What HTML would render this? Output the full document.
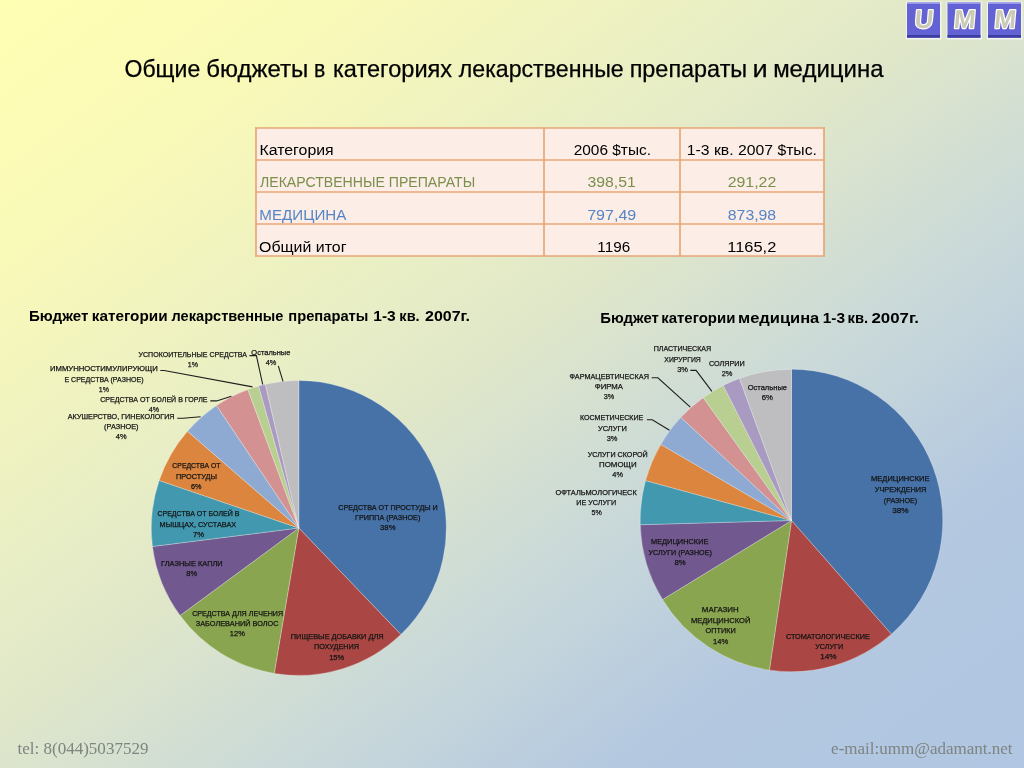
<!DOCTYPE html>
<html><head><meta charset="utf-8"><title>slide</title>
<style>html,body{margin:0;padding:0;width:1024px;height:768px;overflow:hidden;background:#E0E7CA;}svg{display:block;will-change:transform;}</style>
</head><body>
<svg width="1024" height="768" viewBox="0 0 1024 768">
<defs>
<linearGradient id="bg" x1="0" y1="0" x2="1" y2="1" gradientUnits="objectBoundingBox">
<stop offset="0" stop-color="#FFFFB4"/>
<stop offset="0.17" stop-color="#F9F9B8"/>
<stop offset="0.25" stop-color="#F3F5BD"/>
<stop offset="0.39" stop-color="#E7EDC6"/>
<stop offset="0.47" stop-color="#E0E7C9"/>
<stop offset="0.65" stop-color="#C8D8DA"/>
<stop offset="0.8" stop-color="#B4C8E0"/>
<stop offset="1" stop-color="#B0C6E2"/>
</linearGradient>
</defs>
<rect x="0" y="0" width="1024" height="768" fill="url(#bg)"/>
<rect x="906" y="1.5" width="35.5" height="38" fill="#F2F4EE"/>
<rect x="907" y="2.5" width="33" height="35.2" fill="#6262D4"/>
<rect x="907" y="2.2" width="33" height="1.6" fill="#A6A6EC"/>
<rect x="907" y="35" width="33" height="2.7" fill="#3E3EA2"/>
<text x="923.5" y="28.2" font-size="26" font-weight="bold" fill="#CACAB6" stroke="#FFFFFF" stroke-width="2.4" paint-order="stroke fill" stroke-linejoin="round" font-family="Liberation Sans, sans-serif" text-anchor="middle" transform="skewX(-5) translate(2.47,0)">U</text>
<rect x="946.5" y="1.5" width="35.5" height="38" fill="#F2F4EE"/>
<rect x="947.5" y="2.5" width="33" height="35.2" fill="#6262D4"/>
<rect x="947.5" y="2.2" width="33" height="1.6" fill="#A6A6EC"/>
<rect x="947.5" y="35" width="33" height="2.7" fill="#3E3EA2"/>
<text x="964.0" y="28.2" font-size="26" font-weight="bold" fill="#CACAB6" stroke="#FFFFFF" stroke-width="2.4" paint-order="stroke fill" stroke-linejoin="round" font-family="Liberation Sans, sans-serif" text-anchor="middle" transform="skewX(-5) translate(2.47,0)">M</text>
<rect x="987" y="1.5" width="35.5" height="38" fill="#F2F4EE"/>
<rect x="988" y="2.5" width="33" height="35.2" fill="#6262D4"/>
<rect x="988" y="2.2" width="33" height="1.6" fill="#A6A6EC"/>
<rect x="988" y="35" width="33" height="2.7" fill="#3E3EA2"/>
<text x="1004.5" y="28.2" font-size="26" font-weight="bold" fill="#CACAB6" stroke="#FFFFFF" stroke-width="2.4" paint-order="stroke fill" stroke-linejoin="round" font-family="Liberation Sans, sans-serif" text-anchor="middle" transform="skewX(-5) translate(2.47,0)">M</text>
<text x="124.51" y="77.00" font-size="23.6" fill="#000" font-weight="normal" font-family="Liberation Sans, sans-serif" text-anchor="start" textLength="75.71" lengthAdjust="spacingAndGlyphs" stroke="#000" stroke-width="0.25">Общие</text>
<text x="206.21" y="77.00" font-size="23.6" fill="#000" font-weight="normal" font-family="Liberation Sans, sans-serif" text-anchor="start" textLength="102.03" lengthAdjust="spacingAndGlyphs" stroke="#000" stroke-width="0.25">бюджеты</text>
<text x="314.03" y="77.00" font-size="23.6" fill="#000" font-weight="normal" font-family="Liberation Sans, sans-serif" text-anchor="start" textLength="11.30" lengthAdjust="spacingAndGlyphs" stroke="#000" stroke-width="0.25">в</text>
<text x="333.02" y="77.00" font-size="23.6" fill="#000" font-weight="normal" font-family="Liberation Sans, sans-serif" text-anchor="start" textLength="119.13" lengthAdjust="spacingAndGlyphs" stroke="#000" stroke-width="0.25">категориях</text>
<text x="458.78" y="77.00" font-size="23.6" fill="#000" font-weight="normal" font-family="Liberation Sans, sans-serif" text-anchor="start" textLength="164.95" lengthAdjust="spacingAndGlyphs" stroke="#000" stroke-width="0.25">лекарственные</text>
<text x="629.68" y="77.00" font-size="23.6" fill="#000" font-weight="normal" font-family="Liberation Sans, sans-serif" text-anchor="start" textLength="117.53" lengthAdjust="spacingAndGlyphs" stroke="#000" stroke-width="0.25">препараты</text>
<text x="752.62" y="77.00" font-size="23.6" fill="#000" font-weight="normal" font-family="Liberation Sans, sans-serif" text-anchor="start" textLength="15.16" lengthAdjust="spacingAndGlyphs" stroke="#000" stroke-width="0.25">и</text>
<text x="773.15" y="77.00" font-size="23.6" fill="#000" font-weight="normal" font-family="Liberation Sans, sans-serif" text-anchor="start" textLength="110.35" lengthAdjust="spacingAndGlyphs" stroke="#000" stroke-width="0.25">медицина</text>
<rect x="256" y="128" width="568" height="128" fill="#FCEDE6"/>
<line x1="255.2" y1="128" x2="824.8" y2="128" stroke="#E8A676" stroke-width="1.7"/>
<line x1="255.2" y1="160" x2="824.8" y2="160" stroke="#E8A676" stroke-width="1.7"/>
<line x1="255.2" y1="192" x2="824.8" y2="192" stroke="#E8A676" stroke-width="1.7"/>
<line x1="255.2" y1="224" x2="824.8" y2="224" stroke="#E8A676" stroke-width="1.7"/>
<line x1="255.2" y1="256" x2="824.8" y2="256" stroke="#E8A676" stroke-width="1.7"/>
<line x1="256" y1="127.2" x2="256" y2="256.8" stroke="#E8A676" stroke-width="1.7"/>
<line x1="544" y1="127.2" x2="544" y2="256.8" stroke="#E8A676" stroke-width="1.7"/>
<line x1="680" y1="127.2" x2="680" y2="256.8" stroke="#E8A676" stroke-width="1.7"/>
<line x1="824" y1="127.2" x2="824" y2="256.8" stroke="#E8A676" stroke-width="1.7"/>
<text x="259.51" y="155.40" font-size="14.9" fill="#000" font-weight="normal" font-family="Liberation Sans, sans-serif" text-anchor="start" textLength="74.17" lengthAdjust="spacingAndGlyphs">Категория</text>
<text x="573.72" y="155.40" font-size="14.9" fill="#000" font-weight="normal" font-family="Liberation Sans, sans-serif" text-anchor="start" textLength="77.28" lengthAdjust="spacingAndGlyphs">2006 $тыс.</text>
<text x="686.80" y="155.40" font-size="14.9" fill="#000" font-weight="normal" font-family="Liberation Sans, sans-serif" text-anchor="start" textLength="130.14" lengthAdjust="spacingAndGlyphs">1-3 кв. 2007 $тыс.</text>
<text x="259.98" y="187.40" font-size="14.9" fill="#7A8F4C" font-weight="normal" font-family="Liberation Sans, sans-serif" text-anchor="start" textLength="215.16" lengthAdjust="spacingAndGlyphs">ЛЕКАРСТВЕННЫЕ ПРЕПАРАТЫ</text>
<text x="587.40" y="187.40" font-size="14.9" fill="#7A8F4C" font-weight="normal" font-family="Liberation Sans, sans-serif" text-anchor="start" textLength="48.37" lengthAdjust="spacingAndGlyphs">398,51</text>
<text x="727.70" y="187.40" font-size="14.9" fill="#7A8F4C" font-weight="normal" font-family="Liberation Sans, sans-serif" text-anchor="start" textLength="48.60" lengthAdjust="spacingAndGlyphs">291,22</text>
<text x="259.36" y="219.70" font-size="14.9" fill="#5585C5" font-weight="normal" font-family="Liberation Sans, sans-serif" text-anchor="start" textLength="87.07" lengthAdjust="spacingAndGlyphs">МЕДИЦИНА</text>
<text x="587.18" y="219.70" font-size="14.9" fill="#5585C5" font-weight="normal" font-family="Liberation Sans, sans-serif" text-anchor="start" textLength="49.08" lengthAdjust="spacingAndGlyphs">797,49</text>
<text x="727.81" y="219.70" font-size="14.9" fill="#5585C5" font-weight="normal" font-family="Liberation Sans, sans-serif" text-anchor="start" textLength="48.37" lengthAdjust="spacingAndGlyphs">873,98</text>
<text x="259.05" y="251.70" font-size="14.9" fill="#000" font-weight="normal" font-family="Liberation Sans, sans-serif" text-anchor="start" textLength="87.42" lengthAdjust="spacingAndGlyphs">Общий итог</text>
<text x="597.38" y="251.70" font-size="14.9" fill="#000" font-weight="normal" font-family="Liberation Sans, sans-serif" text-anchor="start" textLength="32.77" lengthAdjust="spacingAndGlyphs">1196</text>
<text x="727.28" y="251.70" font-size="14.9" fill="#000" font-weight="normal" font-family="Liberation Sans, sans-serif" text-anchor="start" textLength="49.03" lengthAdjust="spacingAndGlyphs">1165,2</text>
<text x="28.90" y="321.20" font-size="14.2" fill="#000" font-weight="bold" font-family="Liberation Sans, sans-serif" text-anchor="start" textLength="59.42" lengthAdjust="spacingAndGlyphs">Бюджет</text>
<text x="91.74" y="321.20" font-size="14.2" fill="#000" font-weight="bold" font-family="Liberation Sans, sans-serif" text-anchor="start" textLength="75.82" lengthAdjust="spacingAndGlyphs">категории</text>
<text x="171.55" y="321.20" font-size="14.2" fill="#000" font-weight="bold" font-family="Liberation Sans, sans-serif" text-anchor="start" textLength="111.85" lengthAdjust="spacingAndGlyphs">лекарственные</text>
<text x="288.27" y="321.20" font-size="14.2" fill="#000" font-weight="bold" font-family="Liberation Sans, sans-serif" text-anchor="start" textLength="80.16" lengthAdjust="spacingAndGlyphs">препараты</text>
<text x="373.32" y="321.20" font-size="14.2" fill="#000" font-weight="bold" font-family="Liberation Sans, sans-serif" text-anchor="start" textLength="22.44" lengthAdjust="spacingAndGlyphs">1-3</text>
<text x="399.39" y="321.20" font-size="14.2" fill="#000" font-weight="bold" font-family="Liberation Sans, sans-serif" text-anchor="start" textLength="20.20" lengthAdjust="spacingAndGlyphs">кв.</text>
<text x="425.07" y="321.20" font-size="14.2" fill="#000" font-weight="bold" font-family="Liberation Sans, sans-serif" text-anchor="start" textLength="45.00" lengthAdjust="spacingAndGlyphs">2007г.</text>
<text x="600.31" y="322.60" font-size="14.2" fill="#000" font-weight="bold" font-family="Liberation Sans, sans-serif" text-anchor="start" textLength="58.50" lengthAdjust="spacingAndGlyphs">Бюджет</text>
<text x="661.16" y="322.60" font-size="14.2" fill="#000" font-weight="bold" font-family="Liberation Sans, sans-serif" text-anchor="start" textLength="74.27" lengthAdjust="spacingAndGlyphs">категории</text>
<text x="737.95" y="322.60" font-size="14.2" fill="#000" font-weight="bold" font-family="Liberation Sans, sans-serif" text-anchor="start" textLength="81.35" lengthAdjust="spacingAndGlyphs">медицина</text>
<text x="822.73" y="322.60" font-size="14.2" fill="#000" font-weight="bold" font-family="Liberation Sans, sans-serif" text-anchor="start" textLength="22.33" lengthAdjust="spacingAndGlyphs">1-3</text>
<text x="847.58" y="322.60" font-size="14.2" fill="#000" font-weight="bold" font-family="Liberation Sans, sans-serif" text-anchor="start" textLength="20.54" lengthAdjust="spacingAndGlyphs">кв.</text>
<text x="871.44" y="322.60" font-size="14.2" fill="#000" font-weight="bold" font-family="Liberation Sans, sans-serif" text-anchor="start" textLength="47.48" lengthAdjust="spacingAndGlyphs">2007г.</text>
<path d="M298.80,528.00 L298.80,380.50 A147.5,147.5 0 0 1 400.89,634.46 Z" fill="#4672A7" stroke="rgba(255,255,255,0.35)" stroke-width="0.8" stroke-linejoin="round"/>
<path d="M298.80,528.00 L400.89,634.46 A147.5,147.5 0 0 1 274.20,673.43 Z" fill="#AA4744" stroke="rgba(255,255,255,0.35)" stroke-width="0.8" stroke-linejoin="round"/>
<path d="M298.80,528.00 L274.20,673.43 A147.5,147.5 0 0 1 180.08,615.53 Z" fill="#89A54F" stroke="rgba(255,255,255,0.35)" stroke-width="0.8" stroke-linejoin="round"/>
<path d="M298.80,528.00 L180.08,615.53 A147.5,147.5 0 0 1 152.46,546.49 Z" fill="#71588F" stroke="rgba(255,255,255,0.35)" stroke-width="0.8" stroke-linejoin="round"/>
<path d="M298.80,528.00 L152.46,546.49 A147.5,147.5 0 0 1 159.17,480.47 Z" fill="#4298AF" stroke="rgba(255,255,255,0.35)" stroke-width="0.8" stroke-linejoin="round"/>
<path d="M298.80,528.00 L159.17,480.47 A147.5,147.5 0 0 1 187.48,431.23 Z" fill="#DB853E" stroke="rgba(255,255,255,0.35)" stroke-width="0.8" stroke-linejoin="round"/>
<path d="M298.80,528.00 L187.48,431.23 A147.5,147.5 0 0 1 216.53,405.57 Z" fill="#8FAAD2" stroke="rgba(255,255,255,0.35)" stroke-width="0.8" stroke-linejoin="round"/>
<path d="M298.80,528.00 L216.53,405.57 A147.5,147.5 0 0 1 247.87,389.57 Z" fill="#D39291" stroke="rgba(255,255,255,0.35)" stroke-width="0.8" stroke-linejoin="round"/>
<path d="M298.80,528.00 L247.87,389.57 A147.5,147.5 0 0 1 258.64,386.07 Z" fill="#B9CF92" stroke="rgba(255,255,255,0.35)" stroke-width="0.8" stroke-linejoin="round"/>
<path d="M298.80,528.00 L258.64,386.07 A147.5,147.5 0 0 1 265.37,384.34 Z" fill="#A99AC2" stroke="rgba(255,255,255,0.35)" stroke-width="0.8" stroke-linejoin="round"/>
<path d="M298.80,528.00 L265.37,384.34 A147.5,147.5 0 0 1 298.80,380.50 Z" fill="#BEBEC1" stroke="rgba(255,255,255,0.35)" stroke-width="0.8" stroke-linejoin="round"/>
<path d="M791.50,520.50 L791.50,369.20 A151.3,151.3 0 0 1 891.36,634.17 Z" fill="#4672A7" stroke="rgba(255,255,255,0.35)" stroke-width="0.8" stroke-linejoin="round"/>
<path d="M791.50,520.50 L891.36,634.17 A151.3,151.3 0 0 1 769.40,670.18 Z" fill="#AA4744" stroke="rgba(255,255,255,0.35)" stroke-width="0.8" stroke-linejoin="round"/>
<path d="M791.50,520.50 L769.40,670.18 A151.3,151.3 0 0 1 662.50,599.55 Z" fill="#89A54F" stroke="rgba(255,255,255,0.35)" stroke-width="0.8" stroke-linejoin="round"/>
<path d="M791.50,520.50 L662.50,599.55 A151.3,151.3 0 0 1 640.26,524.72 Z" fill="#71588F" stroke="rgba(255,255,255,0.35)" stroke-width="0.8" stroke-linejoin="round"/>
<path d="M791.50,520.50 L640.26,524.72 A151.3,151.3 0 0 1 645.56,480.58 Z" fill="#4298AF" stroke="rgba(255,255,255,0.35)" stroke-width="0.8" stroke-linejoin="round"/>
<path d="M791.50,520.50 L645.56,480.58 A151.3,151.3 0 0 1 660.74,444.39 Z" fill="#DB853E" stroke="rgba(255,255,255,0.35)" stroke-width="0.8" stroke-linejoin="round"/>
<path d="M791.50,520.50 L660.74,444.39 A151.3,151.3 0 0 1 680.85,417.31 Z" fill="#8FAAD2" stroke="rgba(255,255,255,0.35)" stroke-width="0.8" stroke-linejoin="round"/>
<path d="M791.50,520.50 L680.85,417.31 A151.3,151.3 0 0 1 703.21,397.63 Z" fill="#D39291" stroke="rgba(255,255,255,0.35)" stroke-width="0.8" stroke-linejoin="round"/>
<path d="M791.50,520.50 L703.21,397.63 A151.3,151.3 0 0 1 723.28,385.45 Z" fill="#B9CF92" stroke="rgba(255,255,255,0.35)" stroke-width="0.8" stroke-linejoin="round"/>
<path d="M791.50,520.50 L723.28,385.45 A151.3,151.3 0 0 1 739.50,378.42 Z" fill="#A99AC2" stroke="rgba(255,255,255,0.35)" stroke-width="0.8" stroke-linejoin="round"/>
<path d="M791.50,520.50 L739.50,378.42 A151.3,151.3 0 0 1 791.50,369.20 Z" fill="#BEBEC1" stroke="rgba(255,255,255,0.35)" stroke-width="0.8" stroke-linejoin="round"/>
<polyline points="249.4,355.6 256.4,355.6 262.7,384.5" fill="none" stroke="#1E1E1E" stroke-width="1.1"/>
<polyline points="278.3,365.8 283.0,381.4" fill="none" stroke="#1E1E1E" stroke-width="1.1"/>
<polyline points="160.3,370.5 164.2,370.5 252.5,386.9" fill="none" stroke="#1E1E1E" stroke-width="1.1"/>
<polyline points="210.3,400.9 216.6,400.9 231.4,396.2" fill="none" stroke="#1E1E1E" stroke-width="1.1"/>
<polyline points="177.2,418.3 183.0,418.3 200.6,416.7" fill="none" stroke="#1E1E1E" stroke-width="1.1"/>
<polyline points="690.3,370.4 696.1,370.4 711.9,391.4" fill="none" stroke="#1E1E1E" stroke-width="1.1"/>
<polyline points="651.6,377.8 657.9,377.8 690.3,407.2" fill="none" stroke="#1E1E1E" stroke-width="1.1"/>
<polyline points="646.9,419.8 652.3,419.8 669.5,430.3" fill="none" stroke="#1E1E1E" stroke-width="1.1"/>
<text x="138.56" y="356.90" font-size="7.8" fill="#141414" font-weight="normal" font-family="Liberation Sans, sans-serif" text-anchor="start" textLength="108.45" lengthAdjust="spacingAndGlyphs" stroke="#141414" stroke-width="0.25">УСПОКОИТЕЛЬНЫЕ СРЕДСТВА</text>
<text x="187.86" y="366.60" font-size="7.8" fill="#141414" font-weight="normal" font-family="Liberation Sans, sans-serif" text-anchor="start" textLength="10.19" lengthAdjust="spacingAndGlyphs" stroke="#141414" stroke-width="0.25">1%</text>
<text x="251.35" y="354.80" font-size="7.8" fill="#141414" font-weight="normal" font-family="Liberation Sans, sans-serif" text-anchor="start" textLength="38.99" lengthAdjust="spacingAndGlyphs" stroke="#141414" stroke-width="0.25">Остальные</text>
<text x="265.63" y="365.00" font-size="7.8" fill="#141414" font-weight="normal" font-family="Liberation Sans, sans-serif" text-anchor="start" textLength="10.63" lengthAdjust="spacingAndGlyphs" stroke="#141414" stroke-width="0.25">4%</text>
<text x="49.97" y="371.25" font-size="7.8" fill="#141414" font-weight="normal" font-family="Liberation Sans, sans-serif" text-anchor="start" textLength="107.85" lengthAdjust="spacingAndGlyphs" stroke="#141414" stroke-width="0.25">ИММУННОСТИМУЛИРУЮЩИ</text>
<text x="64.43" y="381.90" font-size="7.8" fill="#141414" font-weight="normal" font-family="Liberation Sans, sans-serif" text-anchor="start" textLength="79.10" lengthAdjust="spacingAndGlyphs" stroke="#141414" stroke-width="0.25">Е СРЕДСТВА (РАЗНОЕ)</text>
<text x="98.87" y="391.60" font-size="7.8" fill="#141414" font-weight="normal" font-family="Liberation Sans, sans-serif" text-anchor="start" textLength="10.13" lengthAdjust="spacingAndGlyphs" stroke="#141414" stroke-width="0.25">1%</text>
<text x="100.25" y="401.70" font-size="7.8" fill="#141414" font-weight="normal" font-family="Liberation Sans, sans-serif" text-anchor="start" textLength="107.25" lengthAdjust="spacingAndGlyphs" stroke="#141414" stroke-width="0.25">СРЕДСТВА ОТ БОЛЕЙ В ГОРЛЕ</text>
<text x="148.74" y="411.60" font-size="7.8" fill="#141414" font-weight="normal" font-family="Liberation Sans, sans-serif" text-anchor="start" textLength="10.27" lengthAdjust="spacingAndGlyphs" stroke="#141414" stroke-width="0.25">4%</text>
<text x="67.79" y="418.75" font-size="7.8" fill="#141414" font-weight="normal" font-family="Liberation Sans, sans-serif" text-anchor="start" textLength="106.80" lengthAdjust="spacingAndGlyphs" stroke="#141414" stroke-width="0.25">АКУШЕРСТВО, ГИНЕКОЛОГИЯ</text>
<text x="104.05" y="428.75" font-size="7.8" fill="#141414" font-weight="normal" font-family="Liberation Sans, sans-serif" text-anchor="start" textLength="34.50" lengthAdjust="spacingAndGlyphs" stroke="#141414" stroke-width="0.25">(РАЗНОЕ)</text>
<text x="115.83" y="438.60" font-size="7.8" fill="#141414" font-weight="normal" font-family="Liberation Sans, sans-serif" text-anchor="start" textLength="10.84" lengthAdjust="spacingAndGlyphs" stroke="#141414" stroke-width="0.25">4%</text>
<text x="172.35" y="468.40" font-size="7.8" fill="#141414" font-weight="normal" font-family="Liberation Sans, sans-serif" text-anchor="start" textLength="48.10" lengthAdjust="spacingAndGlyphs" stroke="#141414" stroke-width="0.25">СРЕДСТВА ОТ</text>
<text x="176.02" y="478.90" font-size="7.8" fill="#141414" font-weight="normal" font-family="Liberation Sans, sans-serif" text-anchor="start" textLength="40.97" lengthAdjust="spacingAndGlyphs" stroke="#141414" stroke-width="0.25">ПРОСТУДЫ</text>
<text x="191.03" y="489.00" font-size="7.8" fill="#141414" font-weight="normal" font-family="Liberation Sans, sans-serif" text-anchor="start" textLength="10.48" lengthAdjust="spacingAndGlyphs" stroke="#141414" stroke-width="0.25">6%</text>
<text x="157.45" y="516.40" font-size="7.8" fill="#141414" font-weight="normal" font-family="Liberation Sans, sans-serif" text-anchor="start" textLength="81.92" lengthAdjust="spacingAndGlyphs" stroke="#141414" stroke-width="0.25">СРЕДСТВА ОТ БОЛЕЙ В</text>
<text x="159.61" y="526.60" font-size="7.8" fill="#141414" font-weight="normal" font-family="Liberation Sans, sans-serif" text-anchor="start" textLength="76.54" lengthAdjust="spacingAndGlyphs" stroke="#141414" stroke-width="0.25">МЫШЦАХ, СУСТАВАХ</text>
<text x="192.91" y="537.00" font-size="7.8" fill="#141414" font-weight="normal" font-family="Liberation Sans, sans-serif" text-anchor="start" textLength="11.12" lengthAdjust="spacingAndGlyphs" stroke="#141414" stroke-width="0.25">7%</text>
<text x="161.10" y="565.80" font-size="7.8" fill="#141414" font-weight="normal" font-family="Liberation Sans, sans-serif" text-anchor="start" textLength="61.61" lengthAdjust="spacingAndGlyphs" stroke="#141414" stroke-width="0.25">ГЛАЗНЫЕ КАПЛИ</text>
<text x="186.37" y="575.80" font-size="7.8" fill="#141414" font-weight="normal" font-family="Liberation Sans, sans-serif" text-anchor="start" textLength="10.90" lengthAdjust="spacingAndGlyphs" stroke="#141414" stroke-width="0.25">8%</text>
<text x="192.14" y="615.80" font-size="7.8" fill="#141414" font-weight="normal" font-family="Liberation Sans, sans-serif" text-anchor="start" textLength="90.94" lengthAdjust="spacingAndGlyphs" stroke="#141414" stroke-width="0.25">СРЕДСТВА ДЛЯ ЛЕЧЕНИЯ</text>
<text x="195.76" y="625.80" font-size="7.8" fill="#141414" font-weight="normal" font-family="Liberation Sans, sans-serif" text-anchor="start" textLength="82.81" lengthAdjust="spacingAndGlyphs" stroke="#141414" stroke-width="0.25">ЗАБОЛЕВАНИЙ ВОЛОС</text>
<text x="229.83" y="636.25" font-size="7.8" fill="#141414" font-weight="normal" font-family="Liberation Sans, sans-serif" text-anchor="start" textLength="15.04" lengthAdjust="spacingAndGlyphs" stroke="#141414" stroke-width="0.25">12%</text>
<text x="338.34" y="509.70" font-size="7.8" fill="#141414" font-weight="normal" font-family="Liberation Sans, sans-serif" text-anchor="start" textLength="99.44" lengthAdjust="spacingAndGlyphs" stroke="#141414" stroke-width="0.25">СРЕДСТВА ОТ ПРОСТУДЫ И</text>
<text x="355.01" y="519.80" font-size="7.8" fill="#141414" font-weight="normal" font-family="Liberation Sans, sans-serif" text-anchor="start" textLength="65.34" lengthAdjust="spacingAndGlyphs" stroke="#141414" stroke-width="0.25">ГРИППА (РАЗНОЕ)</text>
<text x="380.00" y="530.20" font-size="7.8" fill="#141414" font-weight="normal" font-family="Liberation Sans, sans-serif" text-anchor="start" textLength="15.57" lengthAdjust="spacingAndGlyphs" stroke="#141414" stroke-width="0.25">38%</text>
<text x="290.80" y="638.80" font-size="7.8" fill="#141414" font-weight="normal" font-family="Liberation Sans, sans-serif" text-anchor="start" textLength="92.80" lengthAdjust="spacingAndGlyphs" stroke="#141414" stroke-width="0.25">ПИЩЕВЫЕ ДОБАВКИ ДЛЯ</text>
<text x="314.02" y="649.20" font-size="7.8" fill="#141414" font-weight="normal" font-family="Liberation Sans, sans-serif" text-anchor="start" textLength="44.96" lengthAdjust="spacingAndGlyphs" stroke="#141414" stroke-width="0.25">ПОХУДЕНИЯ</text>
<text x="329.13" y="660.10" font-size="7.8" fill="#141414" font-weight="normal" font-family="Liberation Sans, sans-serif" text-anchor="start" textLength="15.04" lengthAdjust="spacingAndGlyphs" stroke="#141414" stroke-width="0.25">15%</text>
<text x="653.68" y="350.80" font-size="7.8" fill="#141414" font-weight="normal" font-family="Liberation Sans, sans-serif" text-anchor="start" textLength="57.60" lengthAdjust="spacingAndGlyphs" stroke="#141414" stroke-width="0.25">ПЛАСТИЧЕСКАЯ</text>
<text x="664.35" y="361.60" font-size="7.8" fill="#141414" font-weight="normal" font-family="Liberation Sans, sans-serif" text-anchor="start" textLength="36.41" lengthAdjust="spacingAndGlyphs" stroke="#141414" stroke-width="0.25">ХИРУРГИЯ</text>
<text x="677.21" y="371.50" font-size="7.8" fill="#141414" font-weight="normal" font-family="Liberation Sans, sans-serif" text-anchor="start" textLength="10.85" lengthAdjust="spacingAndGlyphs" stroke="#141414" stroke-width="0.25">3%</text>
<text x="708.93" y="365.80" font-size="7.8" fill="#141414" font-weight="normal" font-family="Liberation Sans, sans-serif" text-anchor="start" textLength="35.86" lengthAdjust="spacingAndGlyphs" stroke="#141414" stroke-width="0.25">СОЛЯРИИ</text>
<text x="721.63" y="376.30" font-size="7.8" fill="#141414" font-weight="normal" font-family="Liberation Sans, sans-serif" text-anchor="start" textLength="10.74" lengthAdjust="spacingAndGlyphs" stroke="#141414" stroke-width="0.25">2%</text>
<text x="747.64" y="389.60" font-size="7.8" fill="#141414" font-weight="normal" font-family="Liberation Sans, sans-serif" text-anchor="start" textLength="39.39" lengthAdjust="spacingAndGlyphs" stroke="#141414" stroke-width="0.25">Остальные</text>
<text x="761.81" y="399.60" font-size="7.8" fill="#141414" font-weight="normal" font-family="Liberation Sans, sans-serif" text-anchor="start" textLength="11.17" lengthAdjust="spacingAndGlyphs" stroke="#141414" stroke-width="0.25">6%</text>
<text x="569.49" y="378.50" font-size="7.8" fill="#141414" font-weight="normal" font-family="Liberation Sans, sans-serif" text-anchor="start" textLength="79.40" lengthAdjust="spacingAndGlyphs" stroke="#141414" stroke-width="0.25">ФАРМАЦЕВТИЧЕСКАЯ</text>
<text x="594.75" y="389.00" font-size="7.8" fill="#141414" font-weight="normal" font-family="Liberation Sans, sans-serif" text-anchor="start" textLength="28.26" lengthAdjust="spacingAndGlyphs" stroke="#141414" stroke-width="0.25">ФИРМА</text>
<text x="603.72" y="399.40" font-size="7.8" fill="#141414" font-weight="normal" font-family="Liberation Sans, sans-serif" text-anchor="start" textLength="10.54" lengthAdjust="spacingAndGlyphs" stroke="#141414" stroke-width="0.25">3%</text>
<text x="579.92" y="420.30" font-size="7.8" fill="#141414" font-weight="normal" font-family="Liberation Sans, sans-serif" text-anchor="start" textLength="63.39" lengthAdjust="spacingAndGlyphs" stroke="#141414" stroke-width="0.25">КОСМЕТИЧЕСКИЕ</text>
<text x="597.90" y="430.80" font-size="7.8" fill="#141414" font-weight="normal" font-family="Liberation Sans, sans-serif" text-anchor="start" textLength="28.96" lengthAdjust="spacingAndGlyphs" stroke="#141414" stroke-width="0.25">УСЛУГИ</text>
<text x="606.72" y="440.60" font-size="7.8" fill="#141414" font-weight="normal" font-family="Liberation Sans, sans-serif" text-anchor="start" textLength="10.75" lengthAdjust="spacingAndGlyphs" stroke="#141414" stroke-width="0.25">3%</text>
<text x="587.81" y="456.90" font-size="7.8" fill="#141414" font-weight="normal" font-family="Liberation Sans, sans-serif" text-anchor="start" textLength="59.97" lengthAdjust="spacingAndGlyphs" stroke="#141414" stroke-width="0.25">УСЛУГИ СКОРОЙ</text>
<text x="599.06" y="466.70" font-size="7.8" fill="#141414" font-weight="normal" font-family="Liberation Sans, sans-serif" text-anchor="start" textLength="37.59" lengthAdjust="spacingAndGlyphs" stroke="#141414" stroke-width="0.25">ПОМОЩИ</text>
<text x="612.33" y="477.20" font-size="7.8" fill="#141414" font-weight="normal" font-family="Liberation Sans, sans-serif" text-anchor="start" textLength="10.63" lengthAdjust="spacingAndGlyphs" stroke="#141414" stroke-width="0.25">4%</text>
<text x="555.55" y="494.80" font-size="7.8" fill="#141414" font-weight="normal" font-family="Liberation Sans, sans-serif" text-anchor="start" textLength="81.19" lengthAdjust="spacingAndGlyphs" stroke="#141414" stroke-width="0.25">ОФТАЛЬМОЛОГИЧЕСК</text>
<text x="576.31" y="505.00" font-size="7.8" fill="#141414" font-weight="normal" font-family="Liberation Sans, sans-serif" text-anchor="start" textLength="39.87" lengthAdjust="spacingAndGlyphs" stroke="#141414" stroke-width="0.25">ИЕ УСЛУГИ</text>
<text x="591.62" y="515.20" font-size="7.8" fill="#141414" font-weight="normal" font-family="Liberation Sans, sans-serif" text-anchor="start" textLength="10.24" lengthAdjust="spacingAndGlyphs" stroke="#141414" stroke-width="0.25">5%</text>
<text x="871.08" y="480.80" font-size="7.8" fill="#141414" font-weight="normal" font-family="Liberation Sans, sans-serif" text-anchor="start" textLength="58.44" lengthAdjust="spacingAndGlyphs" stroke="#141414" stroke-width="0.25">МЕДИЦИНСКИЕ</text>
<text x="874.80" y="491.70" font-size="7.8" fill="#141414" font-weight="normal" font-family="Liberation Sans, sans-serif" text-anchor="start" textLength="51.59" lengthAdjust="spacingAndGlyphs" stroke="#141414" stroke-width="0.25">УЧРЕЖДЕНИЯ</text>
<text x="883.77" y="502.50" font-size="7.8" fill="#141414" font-weight="normal" font-family="Liberation Sans, sans-serif" text-anchor="start" textLength="33.37" lengthAdjust="spacingAndGlyphs" stroke="#141414" stroke-width="0.25">(РАЗНОЕ)</text>
<text x="892.19" y="512.50" font-size="7.8" fill="#141414" font-weight="normal" font-family="Liberation Sans, sans-serif" text-anchor="start" textLength="16.40" lengthAdjust="spacingAndGlyphs" stroke="#141414" stroke-width="0.25">38%</text>
<text x="785.89" y="639.20" font-size="7.8" fill="#141414" font-weight="normal" font-family="Liberation Sans, sans-serif" text-anchor="start" textLength="84.02" lengthAdjust="spacingAndGlyphs" stroke="#141414" stroke-width="0.25">СТОМАТОЛОГИЧЕСКИЕ</text>
<text x="815.21" y="648.75" font-size="7.8" fill="#141414" font-weight="normal" font-family="Liberation Sans, sans-serif" text-anchor="start" textLength="27.88" lengthAdjust="spacingAndGlyphs" stroke="#141414" stroke-width="0.25">УСЛУГИ</text>
<text x="820.18" y="659.20" font-size="7.8" fill="#141414" font-weight="normal" font-family="Liberation Sans, sans-serif" text-anchor="start" textLength="16.36" lengthAdjust="spacingAndGlyphs" stroke="#141414" stroke-width="0.25">14%</text>
<text x="650.99" y="544.30" font-size="7.8" fill="#141414" font-weight="normal" font-family="Liberation Sans, sans-serif" text-anchor="start" textLength="57.42" lengthAdjust="spacingAndGlyphs" stroke="#141414" stroke-width="0.25">МЕДИЦИНСКИЕ</text>
<text x="648.51" y="554.70" font-size="7.8" fill="#141414" font-weight="normal" font-family="Liberation Sans, sans-serif" text-anchor="start" textLength="63.33" lengthAdjust="spacingAndGlyphs" stroke="#141414" stroke-width="0.25">УСЛУГИ (РАЗНОЕ)</text>
<text x="674.56" y="564.90" font-size="7.8" fill="#141414" font-weight="normal" font-family="Liberation Sans, sans-serif" text-anchor="start" textLength="11.21" lengthAdjust="spacingAndGlyphs" stroke="#141414" stroke-width="0.25">8%</text>
<text x="701.87" y="612.30" font-size="7.8" fill="#141414" font-weight="normal" font-family="Liberation Sans, sans-serif" text-anchor="start" textLength="36.77" lengthAdjust="spacingAndGlyphs" stroke="#141414" stroke-width="0.25">МАГАЗИН</text>
<text x="690.88" y="623.00" font-size="7.8" fill="#141414" font-weight="normal" font-family="Liberation Sans, sans-serif" text-anchor="start" textLength="59.44" lengthAdjust="spacingAndGlyphs" stroke="#141414" stroke-width="0.25">МЕДИЦИНСКОЙ</text>
<text x="705.55" y="632.90" font-size="7.8" fill="#141414" font-weight="normal" font-family="Liberation Sans, sans-serif" text-anchor="start" textLength="30.15" lengthAdjust="spacingAndGlyphs" stroke="#141414" stroke-width="0.25">ОПТИКИ</text>
<text x="713.02" y="644.00" font-size="7.8" fill="#141414" font-weight="normal" font-family="Liberation Sans, sans-serif" text-anchor="start" textLength="15.25" lengthAdjust="spacingAndGlyphs" stroke="#141414" stroke-width="0.25">14%</text>
<text x="17.43" y="754.40" font-size="16.6" fill="#7E8480" font-weight="normal" font-family="Liberation Serif, sans-serif" text-anchor="start" textLength="131.07" lengthAdjust="spacingAndGlyphs">tel: 8(044)5037529</text>
<text x="831.14" y="754.40" font-size="16.6" fill="#7E8480" font-weight="normal" font-family="Liberation Serif, sans-serif" text-anchor="start" textLength="181.46" lengthAdjust="spacingAndGlyphs">e-mail:umm@adamant.net</text>
</svg>
</body></html>
